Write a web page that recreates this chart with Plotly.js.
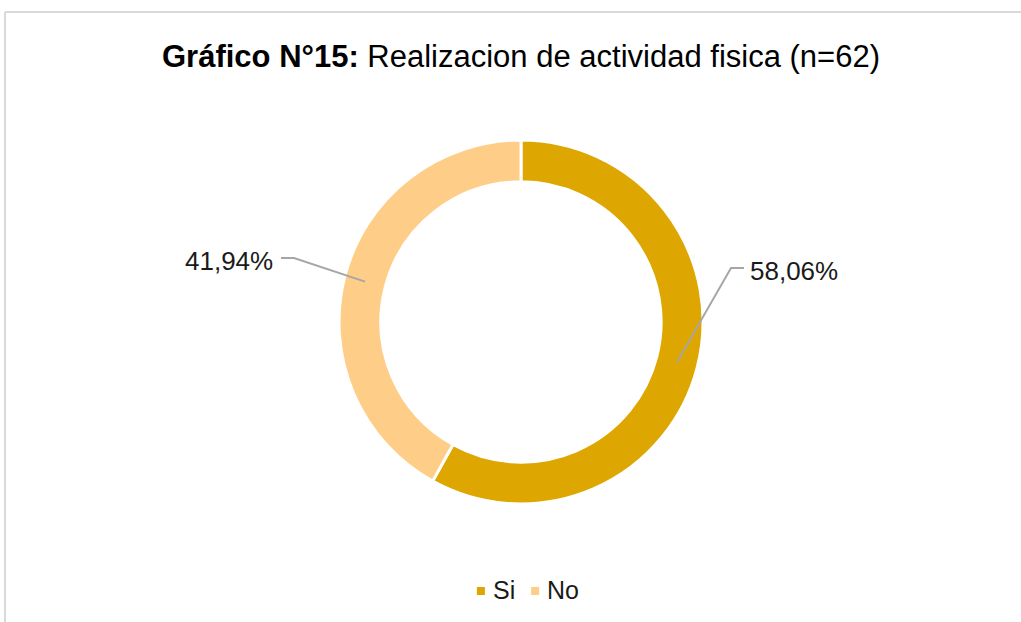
<!DOCTYPE html>
<html>
<head>
<meta charset="utf-8">
<script src="https://cdn.plot.ly/plotly-3.0.1.min.js"></script>
<style>
html,body{margin:0;padding:0;background:#fff;}
#chart{width:1021px;height:622px;}
</style>
</head>
<body>
<div id="chart"></div>
<script>
// ---- data ----
const categories = ['Si', 'No'];
const values = [36, 26];
const colors = ['#DEA600', '#FECE88'];
const titleBold = 'Gráfico N°15:';
const titleRest = 'Realizacion de actividad fisica (n=62)';

// ---- layout geometry (pixels) ----
const W = 1021, H = 622;
const cx = 521, cy = 322, R = 182, hole = 0.77;
const fontFam = '"Liberation Sans", Arial, sans-serif';
const labelSize = 26, legendSize = 25, titleSize = 31;
// label anchor points (end of leader line) and text side
const labelAnchors = [
  {x: 731, y: 268, hx: 744, side: 'left'},
  {x: 294, y: 258, hx: 281, side: 'right'}
];
const legendCenterX = 527, legendY = 590, legendMarker = 8;

const px = x => x / W;
const py = y => 1 - y / H;

const total = values.reduce((a, b) => a + b, 0);
const shapes = [];
const annotations = [];

// border lines of chart area
shapes.push({type: 'line', xref: 'paper', yref: 'paper', x0: px(5), y0: py(12), x1: px(W + 5), y1: py(12), line: {color: '#D9D9D9', width: 2}});
shapes.push({type: 'line', xref: 'paper', yref: 'paper', x0: px(5), y0: py(12), x1: px(5), y1: py(H + 5), line: {color: '#D9D9D9', width: 2}});

let cum = 0;
const rMid = R * (1 + hole) / 2;
values.forEach((v, i) => {
  const frac = v / total;
  const midAng = (cum + frac / 2) * 2 * Math.PI; // clockwise from 12 o'clock
  cum += frac;
  const sx = cx + rMid * Math.sin(midAng);
  const sy = cy - rMid * Math.cos(midAng);
  const a = labelAnchors[i];
  shapes.push({
    type: 'path', xref: 'paper', yref: 'paper',
    path: `M ${px(sx)} ${py(sy)} L ${px(a.x)} ${py(a.y)} L ${px(a.hx)} ${py(a.y)}`,
    line: {color: '#A6A6A6', width: 2}
  });
  const txt = (frac * 100).toFixed(2).replace('.', ',') + '%';
  annotations.push({
    xref: 'paper', yref: 'paper',
    x: px(a.side === 'left' ? a.hx + 4 : a.hx - 6), y: py(a.y + 3),
    xanchor: a.side, yanchor: 'middle',
    text: txt, showarrow: false,
    font: {family: fontFam, size: labelSize, color: '#1a1a1a'}
  });
});

// custom legend (compact, like the reference)
const cvs = document.createElement('canvas').getContext('2d');
cvs.font = legendSize + 'px "Liberation Sans"';
const gapMT = 6, gapItem = 18;
const widths = categories.map(c => cvs.measureText(c).width);
let totalW = 0;
widths.forEach((w, i) => { totalW += legendMarker + gapMT + w + (i < widths.length - 1 ? gapItem : 0); });
let lx = legendCenterX - totalW / 2;
categories.forEach((c, i) => {
  shapes.push({
    type: 'rect', xref: 'paper', yref: 'paper',
    x0: px(lx), x1: px(lx + legendMarker),
    y0: py(legendY + 1 + legendMarker / 2), y1: py(legendY + 1 - legendMarker / 2),
    fillcolor: colors[i], line: {width: 0}
  });
  lx += legendMarker + gapMT;
  annotations.push({
    xref: 'paper', yref: 'paper', x: px(lx), y: py(legendY),
    xanchor: 'left', yanchor: 'middle', showarrow: false,
    text: c, font: {family: fontFam, size: legendSize, color: '#1a1a1a'}
  });
  lx += widths[i] + gapItem;
});

const trace = {
  type: 'pie',
  labels: categories,
  values: values,
  hole: hole,
  sort: false,
  direction: 'clockwise',
  rotation: 0,
  textinfo: 'none',
  hoverinfo: 'label+percent',
  showlegend: false,
  marker: {colors: colors, line: {color: '#ffffff', width: 3}},
  domain: {x: [px(cx - R), px(cx + R)], y: [py(cy + R), py(cy - R)]}
};

const layout = {
  width: W, height: H,
  margin: {l: 0, r: 0, t: 0, b: 0},
  paper_bgcolor: '#ffffff',
  plot_bgcolor: '#ffffff',
  title: {
    text: '<b>' + titleBold + '</b> ' + titleRest,
    x: px(521), y: py(56), xanchor: 'center', yanchor: 'middle',
    font: {family: fontFam, size: titleSize, color: '#000000'}
  },
  showlegend: false,
  shapes: shapes,
  annotations: annotations
};

Plotly.newPlot('chart', [trace], layout, {displayModeBar: false, staticPlot: true});
</script>
</body>
</html>
